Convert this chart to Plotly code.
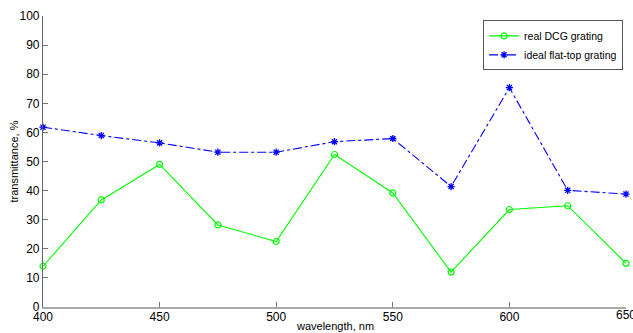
import plotly.graph_objects as go

wavelength = [400, 425, 450, 475, 500, 525, 550, 575, 600, 625, 650]
real_dcg = [14.0, 36.8, 49.0, 28.2, 22.5, 52.4, 39.2, 12.0, 33.5, 34.8, 15.0]
ideal_flat = [61.8, 58.9, 56.4, 53.2, 53.2, 56.8, 57.9, 41.4, 75.4, 40.1, 38.8]
x_ticks = [400, 450, 500, 550, 600, 650]
y_ticks = [0, 10, 20, 30, 40, 50, 60, 70, 80, 90, 100]

fig = go.Figure()
fig.add_trace(go.Scatter(
    x=wavelength, y=real_dcg, name="real DCG grating", mode="lines+markers",
    line=dict(color="#00ff00", width=1.1),
    marker=dict(symbol="circle-open", size=6, color="#00ff00", line=dict(width=1.2, color="#00ff00")),
    cliponaxis=False,
))
fig.add_trace(go.Scatter(
    x=wavelength, y=ideal_flat, name="ideal flat-top grating", mode="lines+markers",
    line=dict(color="#0000ff", width=1.1, dash="dashdot"),
    marker=dict(symbol="asterisk-open", size=6, color="#0000ff", line=dict(width=1.3, color="#0000ff")),
    cliponaxis=False,
))

font = "Liberation Sans, Arial, sans-serif"
fig.update_layout(
    width=633, height=333,
    margin=dict(l=43, r=7, t=16, b=26, autoexpand=False),
    paper_bgcolor="white", plot_bgcolor="white",
    font=dict(family=font, size=11, color="black"),
    showlegend=True,
    legend=dict(
        x=0.995, y=0.985, xanchor="right", yanchor="top",
        bgcolor="white", bordercolor="#555555", borderwidth=1,
        font=dict(size=10.5, family=font),
        itemwidth=30, tracegroupgap=0,
    ),
    xaxis=dict(
        range=[400, 650], tickvals=x_ticks, ticktext=[str(v) for v in x_ticks],
        showgrid=False, zeroline=False, automargin=False,
        showline=True, linecolor="#a8a8a8", linewidth=2,
        ticks="inside", ticklen=5, tickcolor="#777777",
        tickfont=dict(size=12, family=font),
        ticklabelstandoff=-2,
    ),
    yaxis=dict(
        range=[0, 100], tickvals=y_ticks,
        showgrid=False, zeroline=False, automargin=False,
        showline=True, linecolor="#666666", linewidth=1.2,
        ticks="inside", ticklen=5, tickcolor="#777777",
        tickfont=dict(size=12, family=font),
    ),
    annotations=[
        dict(text="650", xref="x", yref="paper", x=650, y=0,
             xanchor="center", yanchor="top", yshift=1, showarrow=False,
             font=dict(size=12, family=font)),
        dict(text="wavelength, nm", xref="paper", yref="paper", x=0.5, y=0,
             xanchor="center", yanchor="top", yshift=-11, showarrow=False,
             font=dict(size=11, family=font)),
        dict(text="transmittance, %", xref="paper", yref="paper", x=0, y=0.5,
             xanchor="center", yanchor="middle", xshift=-30, textangle=-90,
             showarrow=False, font=dict(size=11, family=font)),
    ],
)
fig.write_html(
    "out.html",
    config={"displayModeBar": False},
    post_script="document.body.style.margin='0';document.body.style.overflow='hidden';",
)
